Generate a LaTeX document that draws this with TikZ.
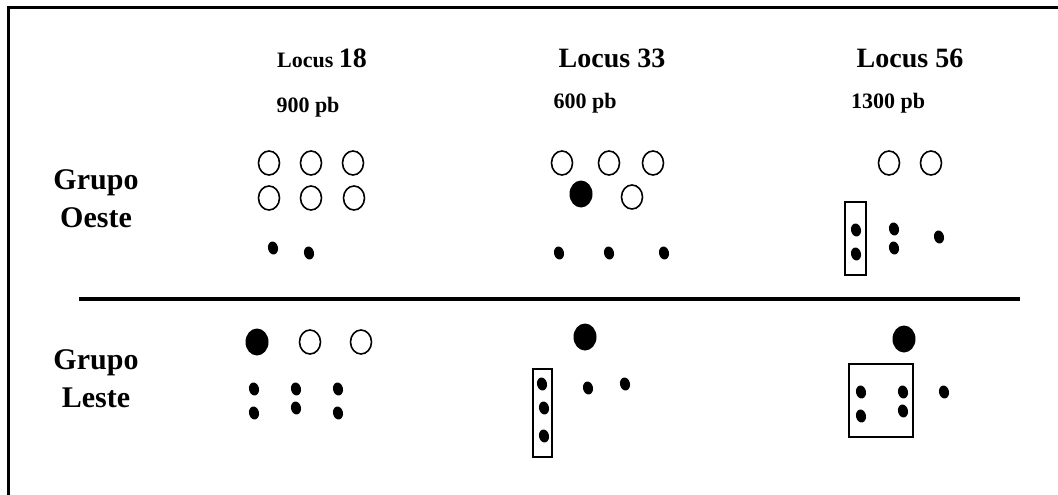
\documentclass[tikz,border=0pt]{standalone}
\usepackage{fontspec}
\setmainfont{Liberation Serif}
\usetikzlibrary{shapes.geometric}
\tikzset{
  openallele/.style={ellipse,draw=black,line width=1.6pt,fill=white,minimum width=21pt,minimum height=24pt,inner sep=0pt},
  fullallele/.style={ellipse,fill=black,minimum width=23pt,minimum height=27pt,inner sep=0pt},
  band/.style={ellipse,fill=black,minimum width=10pt,minimum height=13pt,inner sep=0pt,rotate=12},
  bandbox/.style={rectangle,draw=black,line width=2pt,inner sep=0pt},
  grp/.style={font=\fontsize{30}{38}\selectfont\bfseries,align=center,inner sep=0pt},
  head/.style={font=\bfseries,anchor=base,inner sep=0pt},
}
\begin{document}
\begin{tikzpicture}[x=1pt,y=-1pt]
\useasboundingbox (0,0) rectangle (1058,495);
% frame
\coordinate (ftr) at (1060,7.5);
\coordinate (ftl) at (8.5,7.5);
\coordinate (fbl) at (8.5,497);
\draw[line width=3pt] (ftr) -- (ftl) -- (fbl);
% divider
\coordinate (dl) at (79,299);
\coordinate (dr) at (1020,299);
\draw[line width=4pt] (dl) -- (dr);
% group labels
\node[grp] (gO) at (96,199) {Grupo\\Oeste};
\node[grp] (gL) at (96,379) {Grupo\\Leste};
% headers
\node[head] (h18) at (322,68) {\fontsize{22}{22}\selectfont Locus \fontsize{28}{28}\selectfont 18};
\node[head] (h33) at (612,67) {\fontsize{28}{28}\selectfont Locus 33};
\node[head] (h56) at (910,67) {\fontsize{28}{28}\selectfont Locus 56};
\node[head] (p18) at (308,112) {\fontsize{22}{22}\selectfont 900 pb};
\node[head] (p33) at (585,108) {\fontsize{22}{22}\selectfont 600 pb};
\node[head] (p56) at (888,108) {\fontsize{22}{22}\selectfont 1300 pb};
% ---- Grupo Oeste ----
% Locus 18
\node[openallele] (wa1) at (269,163) {};
\node[openallele] (wa2) at (311,163) {};
\node[openallele] (wa3) at (353,163) {};
\node[openallele] (wa4) at (269,198) {};
\node[openallele] (wa5) at (311,198) {};
\node[openallele] (wa6) at (354,198) {};
\node[band] (wb1) at (273,248) {};
\node[band] (wb2) at (309,253) {};
% Locus 33
\node[openallele] (wc1) at (562,163) {};
\node[openallele] (wc2) at (609,163) {};
\node[openallele] (wc3) at (653,163) {};
\node[fullallele] (wc4) at (581,194) {};
\node[openallele] (wc5) at (632,197) {};
\node[band] (wd1) at (559,253) {};
\node[band] (wd2) at (609,253) {};
\node[band] (wd3) at (664,253) {};
% Locus 56
\node[openallele] (we1) at (889,163) {};
\node[openallele] (we2) at (931,163) {};
\node[bandbox,minimum width=21pt,minimum height=73pt] (wbox) at (855.5,238.5) {};
\node[band] (wf1) at (856,230) {};
\node[band] (wf2) at (856,254) {};
\node[band] (wf3) at (894,229) {};
\node[band] (wf4) at (894,248) {};
\node[band] (wf5) at (939,237) {};
% ---- Grupo Leste ----
% Locus 18
\node[fullallele] (ea1) at (257,342) {};
\node[openallele] (ea2) at (310,342) {};
\node[openallele] (ea3) at (361,342) {};
\node[band] (eb1) at (254,389) {};
\node[band] (eb2) at (254,413) {};
\node[band] (eb3) at (296,389) {};
\node[band] (eb4) at (296,408) {};
\node[band] (eb5) at (338,389) {};
\node[band] (eb6) at (338,413) {};
% Locus 33
\node[fullallele] (ec1) at (585,337) {};
\node[bandbox,minimum width=19pt,minimum height=88pt] (ebox33) at (542.5,413) {};
\node[band] (ed1) at (542,384) {};
\node[band] (ed2) at (544,408) {};
\node[band] (ed3) at (544,436) {};
\node[band] (ed4) at (588,388) {};
\node[band] (ed5) at (625,384) {};
% Locus 56
\node[fullallele] (ee1) at (904,339) {};
\node[bandbox,minimum width=64pt,minimum height=73pt] (ebox56) at (881,400.5) {};
\node[band] (ef1) at (861,392) {};
\node[band] (ef2) at (861,416) {};
\node[band] (ef3) at (903,392) {};
\node[band] (ef4) at (903,411) {};
\node[band] (ef5) at (944,392) {};
\end{tikzpicture}
\end{document}
